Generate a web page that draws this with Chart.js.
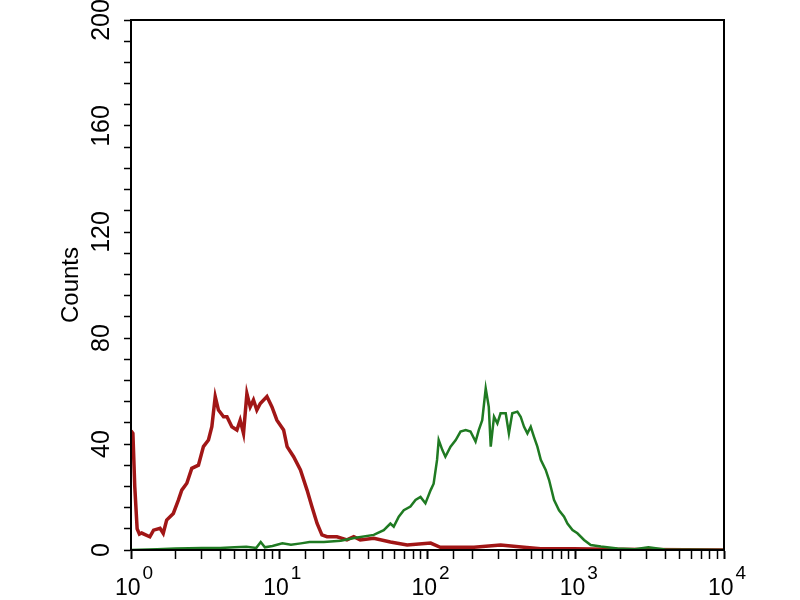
<!DOCTYPE html>
<html>
<head>
<meta charset="utf-8">
<script src="https://cdn.jsdelivr.net/npm/chart.js@4/dist/chart.umd.min.js"></script>
<style>
  body { margin: 0; background: #fff; }
  #wrap { width: 800px; height: 600px; }
</style>
</head>
<body>
<div id="wrap"><canvas id="graph" width="800" height="600"></canvas></div>
<script>
// red histogram (isotype control), channel -> counts
const redX = [1.0, 1.03, 1.06, 1.10, 1.14, 1.18, 1.34, 1.42, 1.57, 1.65, 1.74, 1.93, 2.09, 2.20, 2.38,
  2.57, 2.85, 3.08, 3.33, 3.51, 3.70, 3.89, 4.21, 4.44, 4.79, 5.18, 5.45, 5.74, 6.05, 6.37, 6.70,
  7.06, 7.45, 8.26, 8.93, 9.64, 10.7, 11.3, 12.5, 13.9, 15.4, 16.6, 18.0, 19.4, 21.0, 24.5, 28.6,
  31.8, 35.2, 43.4, 56.2, 72.9, 105, 122, 206, 311, 448, 580, 975, 1640, 3000, 10000];
const redY = [45, 44, 24, 8, 6, 6.4, 5, 7.5, 8.2, 6.3, 11.3, 13.8, 18.9, 22.6, 25.2,
  30.8, 32, 39, 41.5, 46.5, 57.9, 52.8, 50.3, 50.3, 46.5, 45.3, 49, 44, 59, 54, 56.6,
  52.8, 55.3, 57.9, 54, 49, 45.3, 39, 35.2, 30.2, 22.6, 16.4, 10, 5.7, 5, 5, 3.8,
  5, 3.8, 4.4, 3, 1.9, 2.6, 1, 1, 1.9, 1, 0.5, 0.5, 0.3, 0.2, 0];

// green histogram (antibody stained)
const greenX = [1.0, 1.5, 2.0, 3.0, 4.0, 5.0, 6.0, 7.0, 7.5, 8.0, 9.0, 10.5, 12, 14, 16, 20, 26, 32,
  43.4, 50.7, 56.2, 59.2, 64.0, 69.2, 76.7, 83.0, 89.7, 96.8, 105, 110, 116, 119, 126, 132,
  143, 155, 167, 181, 195, 211, 222, 234, 247, 259, 267, 281, 296, 311, 337, 354, 373, 404,
  425, 448, 472, 497, 522, 551, 581, 627, 661, 713, 771, 834, 879, 951, 1026, 1138, 1262,
  1476, 1914, 2500, 3090, 4000, 10000];
const greenY = [0, 0.3, 0.6, 0.8, 0.8, 1.0, 1.2, 0.8, 3, 1.0, 1.5, 2.5, 2, 2.5, 3, 3, 3.5, 4.5,
  5.7, 7.5, 10, 8.8, 12.6, 15, 16.4, 18.9, 20, 17.6, 22.6, 25, 34, 41.5, 37.7, 35.2,
  39, 41.5, 44.7, 45.3, 44.7, 40.9, 45.3, 49, 61, 54, 39, 50.3, 47.8, 51.6, 51.6, 44, 51.6, 52.2,
  50.3, 46.5, 44, 46.5, 42.8, 39, 34, 30.2, 26.4, 18.9, 15, 12.6, 10, 7.5, 6.3, 3.8, 1.9,
  1.3, 0.6, 0.3, 1, 0.2, 0];

// x tick labels: base 10 with exponent
const xMajor = [1, 10, 100, 1000, 10000];
const xExp = ["0", "1", "2", "3", "4"];
const yLabelStep = 40;

function toPoints(xs, ys) {
  return xs.map((x, i) => ({ x: x, y: ys[i] }));
}

// frame around the plot area + x labels with raised exponent
const frame = {
  id: "frame",
  afterDraw(chart) {
    const a = chart.chartArea;
    const ctx = chart.ctx;
    const xs = chart.scales.x;
    ctx.save();
    ctx.strokeStyle = "#000";
    ctx.lineWidth = 2;
    ctx.strokeRect(a.left, a.top, a.right - a.left, a.bottom - a.top);

    ctx.fillStyle = "#000";
    ctx.textAlign = "left";
    ctx.textBaseline = "alphabetic";
    for (let i = 0; i < xMajor.length; i++) {
      const px = xs.getPixelForValue(xMajor[i]);
      ctx.font = "23px 'Liberation Sans'";
      const w = ctx.measureText("10").width;
      ctx.fillText("10", px - 16, a.bottom + 45);
      ctx.font = "19px 'Liberation Sans'";
      ctx.fillText(xExp[i], px - 16 + w + 2, a.bottom + 29);
    }
    ctx.restore();
  },
};

const ctx = document.getElementById("graph").getContext("2d");
const chart = new Chart(ctx, {
  type: "line",
  data: {
    datasets: [
      {
        label: "green",
        data: toPoints(greenX, greenY),
        borderColor: "#1f7a22",
        borderWidth: 2.5,
        pointRadius: 0,
        tension: 0,
      },
      {
        label: "red",
        data: toPoints(redX, redY),
        borderColor: "#a11616",
        borderWidth: 3.5,
        pointRadius: 0,
        tension: 0,
      },
    ],
  },
  plugins: [frame],
  options: {
    responsive: false,
    animation: false,
    layout: { padding: { left: 57, top: 20, right: 76, bottom: 0 } },
    plugins: { legend: { display: false }, tooltip: { enabled: false } },
    scales: {
      x: {
        type: "logarithmic",
        min: 1,
        max: 10000,
        afterFit(scale) { scale.height = 50; },
        border: { display: true, color: "#000", width: 2 },
        grid: {
          drawOnChartArea: false,
          drawTicks: true,
          tickLength: 9,
          tickColor: "#000",
          tickWidth: (c) => (xMajor.includes(c.tick.value) ? 2 : 1.5),
        },
        ticks: {
          autoSkip: false,
          maxRotation: 0,
          color: "#000",
          callback() {
            return "";
          },
        },
      },
      y: {
        min: 0,
        max: 200,
        afterFit(scale) { scale.width = 74; },
        border: { display: true, color: "#000", width: 2 },
        grid: {
          drawOnChartArea: false,
          drawTicks: true,
          tickLength: 7,
          tickColor: "#000",
          tickWidth: 1.5,
        },
        title: {
          display: true,
          text: "Counts",
          color: "#000",
          padding: { top: 0, bottom: 0 },
          font: { family: "Liberation Sans", size: 24 },
        },
        ticks: {
          stepSize: 8,
          autoSkip: false,
          minRotation: 90,
          maxRotation: 90,
          crossAlign: "center",
          color: "#000",
          padding: 1,
          font: { family: "Liberation Sans", size: 25 },
          callback(value) {
            return value % yLabelStep === 0 ? String(value) : "";
          },
        },
      },
    },
  },
});
</script>
</body>
</html>
